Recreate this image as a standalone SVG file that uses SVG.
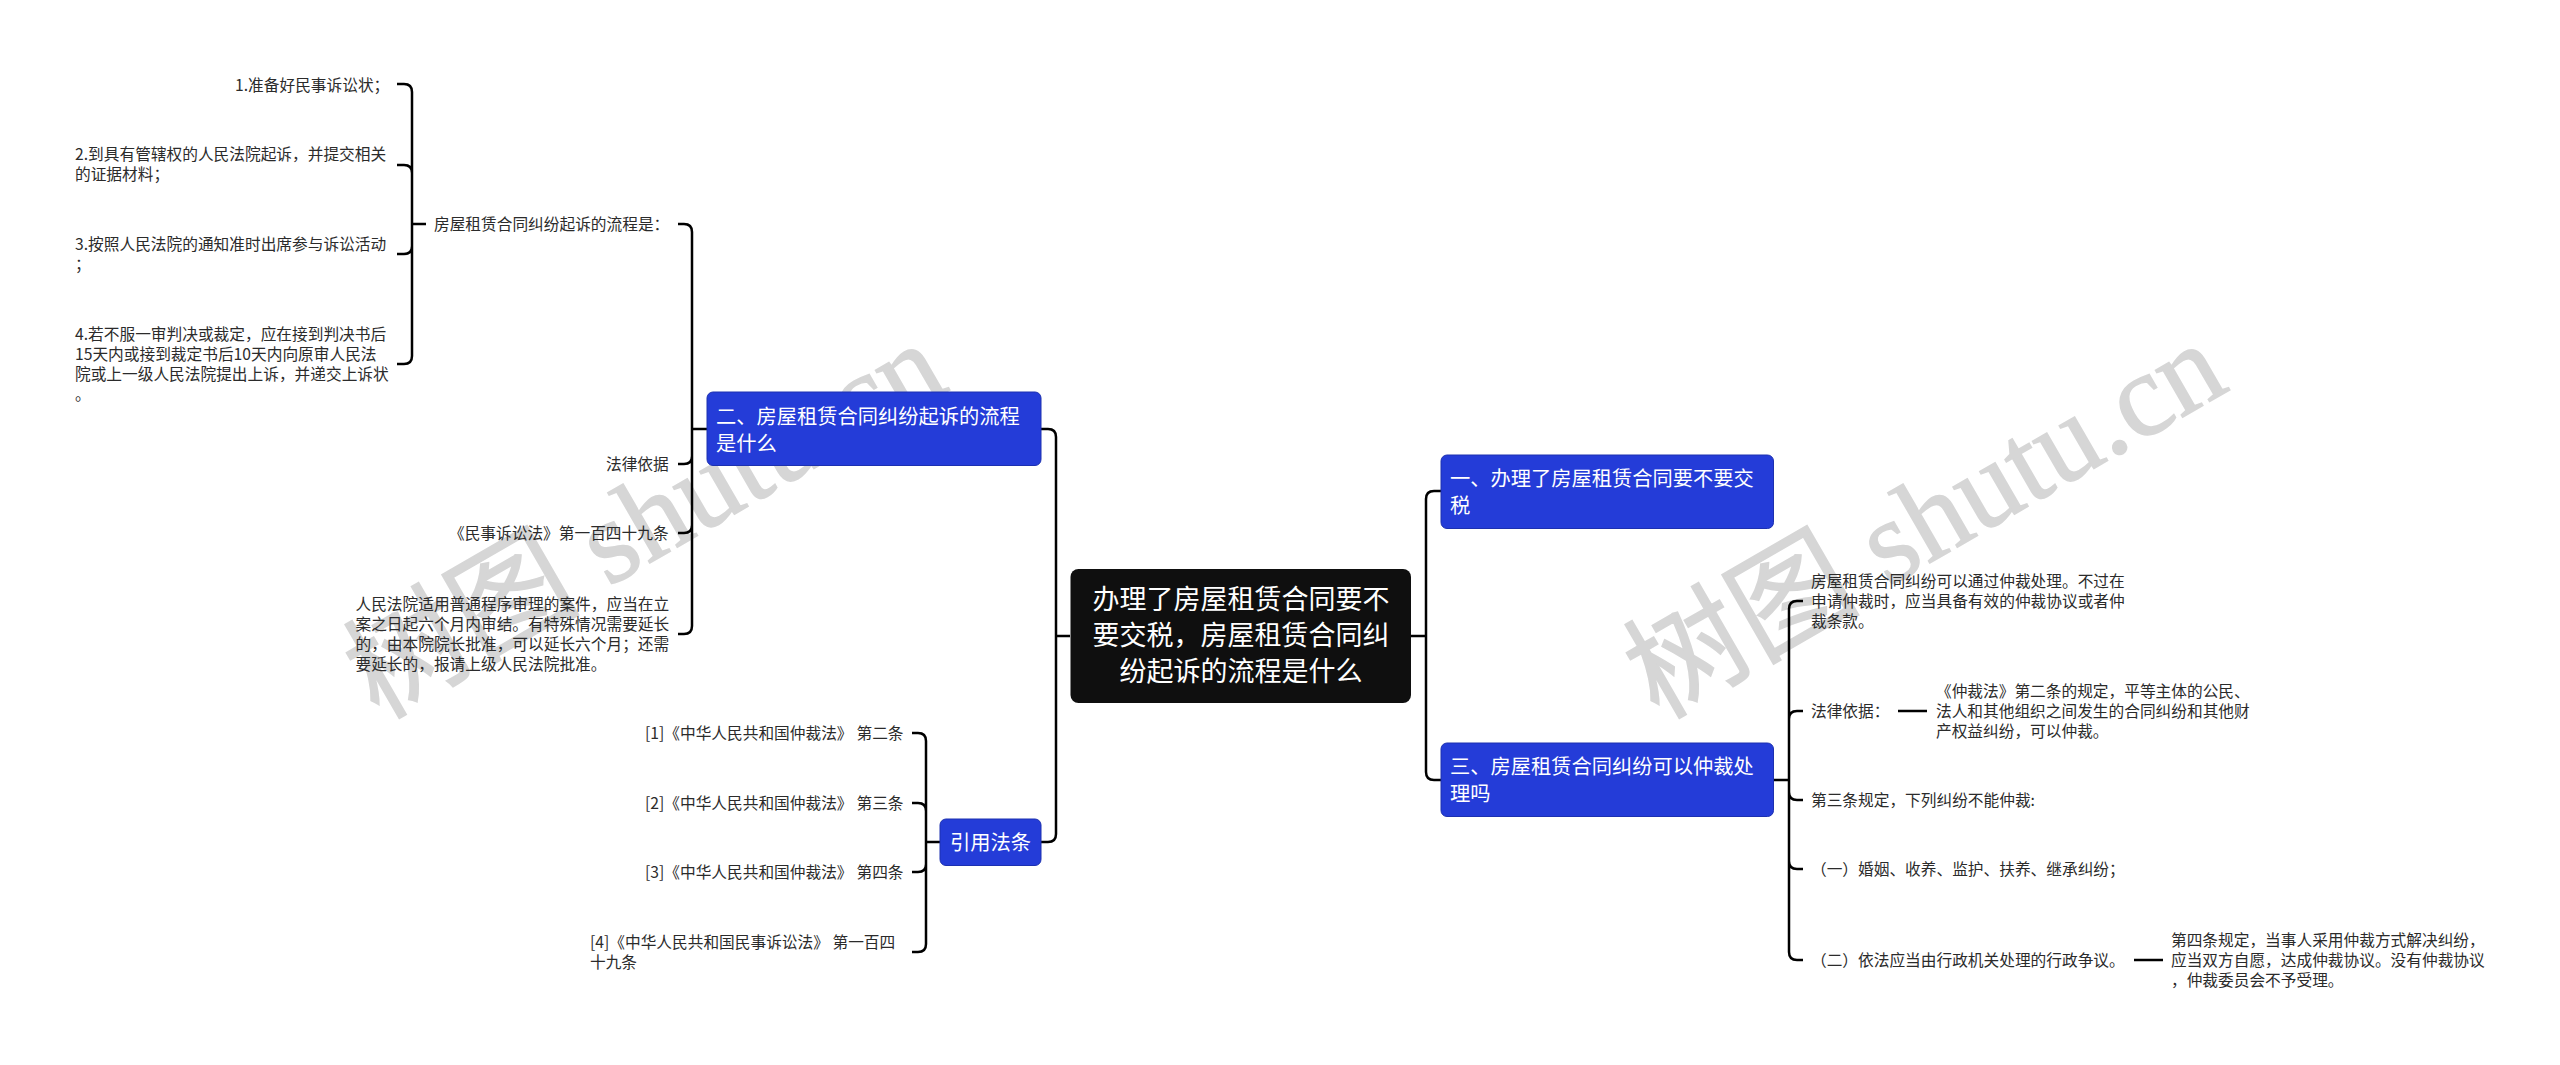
<svg xmlns="http://www.w3.org/2000/svg" width="2560" height="1065" viewBox="0 0 2560 1065">
<style>
text{font-family:"Noto Sans CJK SC","Noto Sans",sans-serif}
.t{font-size:15.7px;fill:#2b2b2b}
.n{font-size:20.25px;fill:#fff}
.r{font-size:27px;fill:#fff;text-anchor:middle}
.b{fill:#243cd8;stroke:#1c30b0;stroke-width:1}
.c{fill:none;stroke:#000;stroke-width:2.5}
.w{font-family:"Liberation Serif","Noto Sans CJK SC",serif;font-size:118px;fill:#d6d6d6;stroke:#d6d6d6;stroke-width:1.5}
</style>
<g id="watermarks">
<text class="w" transform="translate(1658 720) rotate(-30)">树图 shutu.cn</text>
<text class="w" transform="translate(378 720) rotate(-30)">树图 shutu.cn</text>
</g>
<g id="connectors">
<path class="c" d="M1041 429H1048Q1056 429 1056 437V834Q1056 842 1048 842H1041M1056 636H1070"/>
<path class="c" d="M1411 636H1426M1441 491H1434Q1426 491 1426 499V772Q1426 780 1434 780H1441"/>
<path class="c" d="M707 429H692M678 224H684Q692 224 692 232V626Q692 634 684 634H678M678 464H684Q692 464 692 456M678 533H684Q692 533 692 525"/>
<path class="c" d="M426 224H412M397 84H404Q412 84 412 92V356Q412 364 404 364H397M397 165H404Q412 165 412 173M397 254H404Q412 254 412 246"/>
<path class="c" d="M940 842H926M912 733H918Q926 733 926 741V944Q926 952 918 952H912M912 803H918Q926 803 926 811M912 872H918Q926 872 926 864"/>
<path class="c" d="M1774 780H1789M1803 601H1797Q1789 601 1789 609V952Q1789 960 1797 960H1803M1803 711H1797Q1789 711 1789 719M1803 800H1797Q1789 800 1789 792M1803 869H1797Q1789 869 1789 861"/>
<path class="c" d="M1898 711H1927M2134 960H2163"/>
</g>
<g id="root"><rect x="1070.500" y="569" width="340.500" height="134" rx="8" fill="#0f0f0f"/>
<text class="r"><tspan x="1241" y="609">办理了房屋租赁合同要不</tspan><tspan x="1241" y="645">要交税，房屋租赁合同纠</tspan><tspan x="1241" y="681">纷起诉的流程是什么</tspan></text></g>
<g id="node-1"><rect class="b" x="1441" y="455" width="332.500" height="73.500" rx="6"/><text class="n"><tspan x="1450" y="486">一、办理了房屋租赁合同要不要交</tspan><tspan x="1450" y="513">税</tspan></text></g>
<g id="node-2"><rect class="b" x="707" y="392" width="334" height="73.500" rx="6"/><text class="n"><tspan x="716" y="423.500">二、房屋租赁合同纠纷起诉的流程</tspan><tspan x="716" y="450.500">是什么</tspan></text></g>
<g id="node-3"><rect class="b" x="1441" y="743" width="332.500" height="73.500" rx="6"/><text class="n"><tspan x="1450" y="774">三、房屋租赁合同纠纷可以仲裁处</tspan><tspan x="1450" y="801">理吗</tspan></text></g>
<g id="node-4"><rect class="b" x="940" y="819" width="101" height="46.500" rx="6"/><text class="n" x="950" y="850">引用法条</text></g>
<g id="l1"><text class="t" x="235" y="91">1.准备好民事诉讼状；</text></g>
<g id="l2"><text class="t"><tspan x="75" y="160">2.到具有管辖权的人民法院起诉，并提交相关</tspan><tspan x="75" y="180">的证据材料；</tspan></text></g>
<g id="l3"><text class="t"><tspan x="75" y="250">3.按照人民法院的通知准时出席参与诉讼活动</tspan><tspan x="75" y="270">；</tspan></text></g>
<g id="l4"><text class="t"><tspan x="75" y="340">4.若不服一审判决或裁定，应在接到判决书后</tspan><tspan x="75" y="360">15天内或接到裁定书后10天内向原审人民法</tspan><tspan x="75" y="380">院或上一级人民法院提出上诉，并递交上诉状</tspan><tspan x="75" y="400">。</tspan></text></g>
<g id="l5"><text class="t" x="434" y="230">房屋租赁合同纠纷起诉的流程是：</text></g>
<g id="l6"><text class="t" x="606" y="470">法律依据</text></g>
<g id="l7"><text class="t" x="449" y="539">《民事诉讼法》第一百四十九条</text></g>
<g id="l8"><text class="t"><tspan x="355.500" y="610">人民法院适用普通程序审理的案件，应当在立</tspan><tspan x="355.500" y="630">案之日起六个月内审结。有特殊情况需要延长</tspan><tspan x="355.500" y="650">的，由本院院长批准，可以延长六个月；还需</tspan><tspan x="355.500" y="670">要延长的，报请上级人民法院批准。</tspan></text></g>
<g id="l9"><text class="t" x="645" y="739">[1]《中华人民共和国仲裁法》<tspan x="856.500">第二条</tspan></text></g>
<g id="l10"><text class="t" x="645" y="809">[2]《中华人民共和国仲裁法》<tspan x="856.500">第三条</tspan></text></g>
<g id="l11"><text class="t" x="645" y="878">[3]《中华人民共和国仲裁法》<tspan x="856.500">第四条</tspan></text></g>
<g id="l12"><text class="t"><tspan x="590" y="948">[4]《中华人民共和国民事诉讼法》<tspan x="832.500">第一百四</tspan></tspan><tspan x="590" y="968">十九条</tspan></text></g>
<g id="r1"><text class="t"><tspan x="1811" y="587">房屋租赁合同纠纷可以通过仲裁处理。不过在</tspan><tspan x="1811" y="607">申请仲裁时，应当具备有效的仲裁协议或者仲</tspan><tspan x="1811" y="627">裁条款。</tspan></text></g>
<g id="r2"><text class="t" x="1811" y="717">法律依据：</text></g>
<g id="r3"><text class="t"><tspan x="1936" y="697">《仲裁法》第二条的规定，平等主体的公民、</tspan><tspan x="1936" y="717">法人和其他组织之间发生的合同纠纷和其他财</tspan><tspan x="1936" y="737">产权益纠纷，可以仲裁。</tspan></text></g>
<g id="r4"><text class="t" x="1811" y="806">第三条规定，下列纠纷不能仲裁:</text></g>
<g id="r5"><text class="t" x="1811" y="875">（一）婚姻、收养、监护、扶养、继承纠纷；</text></g>
<g id="r6"><text class="t" x="1811" y="966">（二）依法应当由行政机关处理的行政争议。</text></g>
<g id="r7"><text class="t"><tspan x="2171" y="946">第四条规定，当事人采用仲裁方式解决纠纷，</tspan><tspan x="2171" y="966">应当双方自愿，达成仲裁协议。没有仲裁协议</tspan><tspan x="2171" y="986">，仲裁委员会不予受理。</tspan></text></g>
</svg>
